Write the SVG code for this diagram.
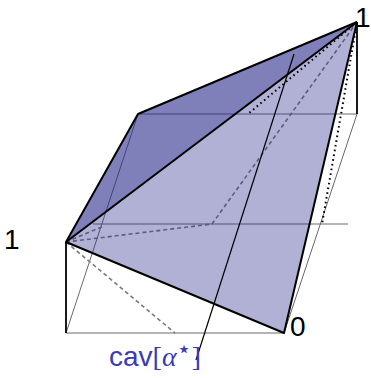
<svg xmlns="http://www.w3.org/2000/svg" width="371" height="378" viewBox="0 0 371 378">
<style>
.thin{stroke:#6a6a6a;stroke-width:1;fill:none}
.dash{stroke:#7a7a7a;stroke-width:1.6;fill:none;stroke-dasharray:4 3}
.dot{stroke:#000;stroke-width:2;fill:none;stroke-dasharray:1.6 3.2}
.edge{stroke:#000;stroke-width:2;fill:none;stroke-linejoin:round}
.face{fill:#28288a;fill-opacity:0.36;stroke:none}
.lbl{font-family:"Liberation Sans",Arial,sans-serif;font-size:28px;fill:#000}
</style>
<rect width="371" height="378" fill="#fff"/>
<g id="hidden-lines">
<line class="thin" x1="66" y1="333" x2="284" y2="333"/>
<line class="thin" x1="66" y1="333" x2="138" y2="114"/>
<line class="thin" x1="357" y1="114" x2="284" y2="333"/>
<line class="thin" x1="138" y1="114" x2="357" y2="114"/>
<line class="thin" x1="93" y1="224" x2="348" y2="224"/>
<polyline class="dash" points="66,242 212,224 357,22"/>
<line class="dash" x1="66" y1="242" x2="175" y2="333"/>
<line class="dash" x1="66" y1="242" x2="104" y2="226"/>
</g>
<g id="faces">
<polygon class="face" points="66,242 357,22 284,333"/>
<polygon class="face" points="66,242 138,114 357,22"/>
<polygon class="face" points="66,242 138,114 357,22"/>
</g>
<g id="front-lines">
<line class="dot" x1="357" y1="22" x2="248" y2="114"/>
<line class="dot" x1="357" y1="22" x2="322" y2="224"/>
<line stroke="#000" stroke-width="1.2" x1="294" y1="54" x2="196" y2="360"/>
<line stroke="#000" stroke-width="1.8" x1="357" y1="22" x2="357" y2="114"/>
<line stroke="#000" stroke-width="1.8" x1="66" y1="242" x2="66" y2="333"/>
<polyline class="edge" points="66,242 138,114 357,22"/>
<line class="edge" x1="66" y1="242" x2="357" y2="22"/>
<polyline class="edge" points="66,242 284,333 357,22"/>
</g>
<g id="labels">
<text class="lbl" x="4" y="249">1</text>
<text class="lbl" x="355" y="27">1</text>
<text class="lbl" x="290" y="336">0</text>
<text x="109" y="366" fill="#3a3ab8" font-size="28" font-family="Liberation Sans,Arial,sans-serif">cav<tspan font-family="Liberation Serif,serif">[</tspan><tspan font-family="Liberation Serif,serif" font-style="italic">α</tspan><tspan font-family="DejaVu Sans,sans-serif" font-size="24" dy="-9">⋆</tspan><tspan font-family="Liberation Serif,serif" dy="9">]</tspan></text>
</g>
</svg>
